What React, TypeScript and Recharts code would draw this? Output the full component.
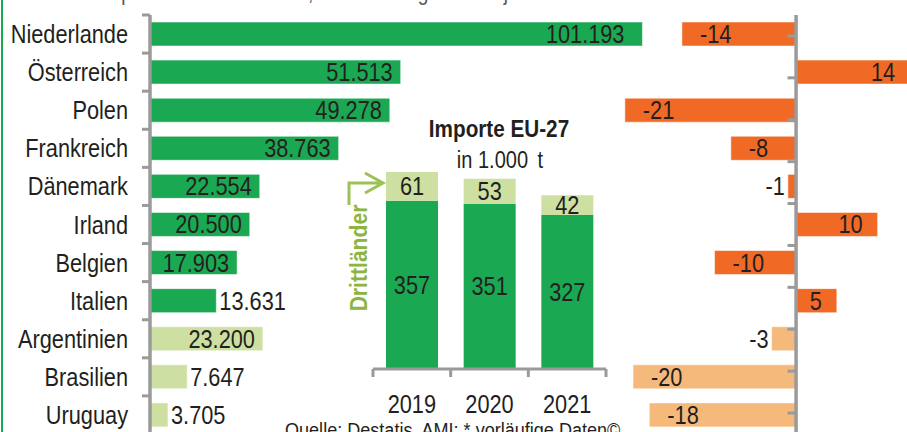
import React from 'react';
import { BarChart, Bar, XAxis, YAxis, Cell, LabelList, ReferenceLine } from 'recharts';

// Importe 2021 nach Herkunftsland (t) und Veränderung zum Vorjahr (%)
const laender = ['Niederlande', 'Österreich', 'Polen', 'Frankreich', 'Dänemark', 'Irland', 'Belgien', 'Italien', 'Argentinien', 'Brasilien', 'Uruguay'];
const importe2021 = [101193, 51513, 49278, 38763, 22554, 20500, 17903, 13631, 23200, 7647, 3705];
const veraenderung = [-14, 14, -21, -8, -1, 10, -10, 5, -3, -20, -18];
const drittland = [false, false, false, false, false, false, false, false, true, true, true];

// Importe EU-27 in 1.000 t
const jahre = ['2019', '2020', '2021'];
const importeEU = [357, 351, 327];
const importeDrittlaender = [61, 53, 42];

const FONT = "'Liberation Sans', Arial, sans-serif";
const SX = 0.87; // schmale Schrift nachbilden
const TEXT = '#231f20';
const AXIS = '#9a9a9a';
const GREEN = '#1ba853';
const GREEN_LIGHT = '#cde0a2';
const ORANGE = '#f06a26';
const ORANGE_LIGHT = '#f5b97c';

const laenderData = laender.map((land, i) => ({
  land,
  menge: importe2021[i],
  diff: veraenderung[i],
  dritt: drittland[i],
}));

const jahresData = jahre.map((jahr, i) => ({
  jahr,
  eu: importeEU[i],
  dritt: importeDrittlaender[i],
}));

const fmt = (v: number) => String(v).replace(/\B(?=(\d{3})+(?!\d))/g, '.');

const NText = ({ x, y, anchor = 'start', size = 25, weight = 'normal', fill = TEXT, dy = '0.36em', sx = SX, children }: any) => (
  <text transform={`translate(${x} ${y}) scale(${sx} 1)`} textAnchor={anchor} dy={dy}
    fontFamily={FONT} fontSize={size} fontWeight={weight} fill={fill}>
    {children}
  </text>
);

const box = (props: any) => {
  const vb = props.viewBox || props;
  const x = Number(vb.x), w = Number(vb.width);
  return { left: Math.min(x, x + w), right: Math.max(x, x + w), y: Number(vb.y), h: Number(vb.height) };
};

// Mengen-Label: innen rechts bei großen Balken, sonst rechts daneben
const MengeLabel = (props: any) => {
  const { right, y, h } = box(props);
  const v = Number(props.value);
  const inside = v > 15000;
  const pad = v > 90000 ? 18 : 8;
  return <NText x={inside ? right - pad : right + 3} y={y + h / 2} anchor={inside ? 'end' : 'start'}>{fmt(v)}</NText>;
};

const DiffLabel = (props: any) => {
  const { left, right, y, h } = box(props);
  const v = Number(props.value);
  let x = left + 18;
  let anchor = 'start';
  if (Math.abs(v) <= 3) { x = left - 3; anchor = 'end'; }
  else if (v > 0) { x = right - 15; anchor = 'end'; }
  return <NText x={x} y={y + h / 2} anchor={anchor}>{v}</NText>;
};

const MitteLabel = (props: any) => {
  const vb = props.viewBox || props;
  return <NText x={vb.x + vb.width / 2} y={vb.y + vb.height / 2} anchor="middle">{props.value}</NText>;
};

const LandTick = (props: any) => {
  const { x, y, payload, index, visibleTicksCount } = props;
  const off = payload.offset ?? 19;
  return (
    <g>
      <line x1={x - 8} x2={x} y1={y - off} y2={y - off} stroke={AXIS} strokeWidth={3} />
      {index === visibleTicksCount - 1 && (
        <line x1={x - 8} x2={x} y1={y + off} y2={y + off} stroke={AXIS} strokeWidth={3} />
      )}
      <NText x={x - 22} y={y} anchor="end">{payload.value}</NText>
    </g>
  );
};

const JahrTick = (props: any) => {
  const { x, y, payload, index, visibleTicksCount } = props;
  const off = payload.offset ?? 39;
  return (
    <g>
      <line x1={x - off} x2={x - off} y1={y} y2={y + 8} stroke={AXIS} strokeWidth={3} />
      {index === visibleTicksCount - 1 && (
        <line x1={x + off} x2={x + off} y1={y} y2={y + 8} stroke={AXIS} strokeWidth={3} />
      )}
      <NText x={x} y={y + 35} anchor="middle">{payload.value}</NText>
    </g>
  );
};

const grenzen = laender.map((_, i) => i - 0.5).concat([laender.length - 0.5]);

export default function App() {
  return (
    <div style={{ position: 'absolute', left: 0, top: 0, width: 907, height: 432, overflow: 'hidden', background: '#fff', fontFamily: FONT }}>
      {/* Importmengen */}
      <div style={{ position: 'absolute', left: 0, top: 0 }}>
        <BarChart width={734} height={440} layout="vertical" data={laenderData}
          margin={{ top: 15, right: 0, bottom: 6, left: 0 }} barSize={24}>
          <XAxis type="number" domain={[0, 120000]} allowDataOverflow hide />
          <YAxis type="category" dataKey="land" width={150} tickSize={0} tickMargin={0} tickLine={false}
            axisLine={{ stroke: AXIS, strokeWidth: 3.5 }} tick={<LandTick />} interval={0} />
          <Bar dataKey="menge" isAnimationActive={false} stroke="rgba(255,255,255,0.55)" strokeWidth={1}>
            {laenderData.map((d, i) => <Cell key={i} fill={d.dritt ? GREEN_LIGHT : GREEN} />)}
            <LabelList dataKey="menge" content={<MengeLabel />} />
          </Bar>
        </BarChart>
      </div>

      {/* Veränderung */}
      <div style={{ position: 'absolute', left: 600, top: 0 }}>
        <BarChart width={320} height={440} layout="vertical" data={laenderData}
          margin={{ top: 15, right: 0, bottom: 6, left: 0 }} barSize={24}>
          <XAxis type="number" domain={[-24.05, 15.2]} allowDataOverflow hide />
          <YAxis yAxisId="cat" type="category" dataKey="land" hide />
          <YAxis yAxisId="pos" type="number" domain={[-0.5, laender.length - 0.5]} reversed hide allowDataOverflow />
          <Bar yAxisId="cat" dataKey="diff" isAnimationActive={false} stroke="rgba(255,255,255,0.5)" strokeWidth={1}>
            {laenderData.map((d, i) => <Cell key={i} fill={d.dritt ? ORANGE_LIGHT : ORANGE} />)}
            <LabelList dataKey="diff" content={<DiffLabel />} />
          </Bar>
          <ReferenceLine yAxisId="pos" x={0} stroke={AXIS} strokeWidth={3.5} />
          {grenzen.map((b) => (
            <ReferenceLine key={b} yAxisId="pos" segment={[{ x: -1.05, y: b }, { x: 0, y: b }]}
              stroke={AXIS} strokeWidth={3} ifOverflow="visible" />
          ))}
        </BarChart>
      </div>

      {/* Importe EU-27 */}
      <div style={{ position: 'absolute', left: 300, top: 100 }}>
        <BarChart width={330} height={319} data={jahresData}
          margin={{ top: 57, right: 24, bottom: 0, left: 73 }} barSize={52}>
          <XAxis dataKey="jahr" height={50} tickSize={0} tickMargin={0} tickLine={false}
            axisLine={{ stroke: AXIS, strokeWidth: 3 }} tick={<JahrTick />} interval={0} />
          <YAxis domain={[0, 450]} allowDataOverflow hide />
          <Bar dataKey="eu" stackId="a" fill={GREEN} isAnimationActive={false}>
            <LabelList dataKey="eu" content={<MitteLabel />} />
          </Bar>
          <Bar dataKey="dritt" stackId="a" fill={GREEN_LIGHT} isAnimationActive={false}>
            <LabelList dataKey="dritt" content={<MitteLabel />} />
          </Bar>
        </BarChart>
      </div>

      {/* Beschriftungen */}
      <svg width={907} height={432} style={{ position: 'absolute', left: 0, top: 0, pointerEvents: 'none' }}>
        <rect x={1} y={0} width={2} height={432} fill={GREEN} />
        <NText x={100} y={0} size={22} fill="#555" dy={0}>
          Importe 2021* in Tonnen, Veränderung zum Vorjahr in %
        </NText>
        <NText x={499} y={137} anchor="middle" size={23} weight="bold" sx={0.9} dy={0}>
          Importe EU-27
        </NText>
        <NText x={500} y={168} anchor="middle" size={23} dy={0}>
          in 1.000 {'\u2009'}t
        </NText>
        <path d="M 349 205 L 349 183 L 383 183 M 365 173 L 383 183 L 365 193" fill="none" stroke="#9bc253" strokeWidth={3} />
        <text transform="translate(358 258) rotate(-90) scale(0.88 1)" textAnchor="middle" dy="0.36em"
          fontFamily={FONT} fontSize={24} fontWeight="bold" fill="#8cb43f">
          Drittländer
        </text>
        <NText x={285} y={437} size={21} sx={0.86} dy={0}>
          Quelle: Destatis, AMI; * vorläufige Daten©
        </NText>
      </svg>
    </div>
  );
}
